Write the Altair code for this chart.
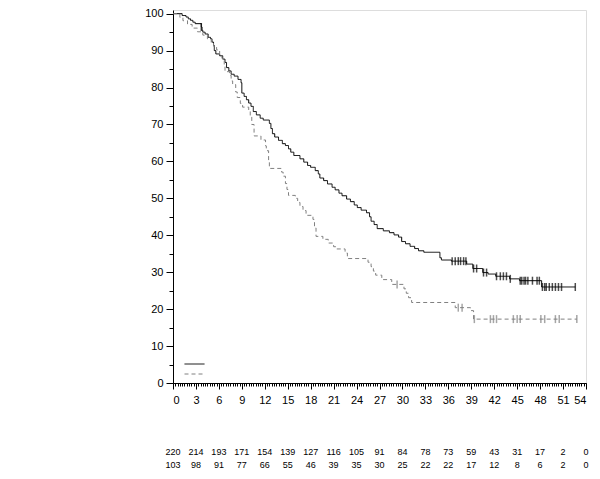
import altair as alt
import pandas as pd
import numpy as np

# ---- Kaplan-Meier steps ----
trt_time = [0, 1.2, 1.7, 2.0, 2.3, 2.6, 2.9, 3.7, 3.8, 3.9, 4.2, 4.6, 4.9, 5.1, 5.3, 5.4, 5.6, 6.1, 6.5, 6.8,
            7.0, 7.3, 7.6, 8.0, 8.5, 8.9, 9.0, 9.3, 9.6, 9.9, 10.2, 10.5, 10.9, 11.4, 11.8, 12.6, 12.8, 13.0,
            13.3, 13.8, 14.3, 14.7, 15.1, 15.4, 15.8, 16.6, 17.1, 17.6, 18.0, 18.6, 19.0, 19.2, 19.7, 20.2,
            20.8, 21.2, 21.7, 22.1, 22.7, 23.2, 23.7, 24.1, 24.6, 25.3, 25.7, 25.9, 26.3, 26.7, 27.5, 28.3,
            28.9, 29.5, 29.9, 30.4, 31.0, 31.6, 32.1, 32.8, 34.9, 35.1, 36.4, 38.4, 39.2, 40.5, 41.2, 42.2,
            44.0, 45.3, 48.2, 52.6]
trt_surv = [100, 99.5, 99.1, 98.6, 98.2, 97.7, 97.3, 96.4, 95.5, 95.0, 94.5, 93.6, 93.2, 92.3, 91.4, 90.0,
            89.1, 88.6, 87.7, 86.8, 85.4, 84.5, 83.6, 83.1, 82.2, 81.3, 78.5, 77.6, 76.7, 75.8, 74.9, 73.5,
            72.6, 71.7, 71.2, 70.3, 68.9, 67.5, 66.6, 65.7, 64.8, 64.3, 63.4, 62.5, 61.6, 60.7, 59.8, 58.9,
            58.4, 57.5, 56.6, 55.5, 54.8, 53.9, 53.0, 52.3, 51.4, 50.7, 49.8, 49.1, 48.2, 47.5, 46.8, 46.1,
            45.0, 43.8, 42.9, 41.8, 41.2, 40.7, 40.1, 39.5, 38.3, 37.7, 37.0, 36.4, 35.8, 35.4, 33.9, 33.3,
            33.0, 32.2, 31.0, 29.9, 29.5, 28.9, 28.2, 27.7, 26.0, 26.0]
trt_censor = [3.7, 36.5, 36.9, 37.3, 37.6, 38.0, 38.3, 39.3, 39.7, 40.6, 41.0, 42.3, 42.8, 43.2, 43.6, 44.1,
              45.4, 45.6, 45.9, 46.1, 46.4, 47.0, 47.6, 47.9, 48.3, 48.6, 48.8, 49.2, 49.6, 50.0, 50.4, 50.8,
              52.6]

ctl_time = [0, 0.9, 1.3, 1.9, 2.5, 3.2, 3.9, 4.5, 5.0, 5.3, 5.7, 6.1, 6.4, 6.7, 6.8, 7.4, 7.6, 7.8, 8.2, 8.4,
            8.8, 9.1, 9.9, 10.1, 10.3, 10.6, 11.5, 12.1, 12.2, 12.5, 12.6, 14.2, 14.4, 14.7, 14.9, 15.1, 16.0,
            16.3, 16.6, 17.0, 17.4, 18.3, 18.5, 18.7, 19.6, 20.3, 21.0, 21.3, 22.5, 22.8, 25.5, 25.9, 26.2,
            26.5, 27.3, 28.6, 30.2, 30.5, 30.8, 31.2, 36.9, 38.9, 39.3, 52.8]
ctl_surv = [100, 99.0, 98.1, 97.1, 96.1, 95.1, 94.2, 93.2, 92.2, 91.2, 90.2, 88.9, 87.9, 86.1, 84.3, 83.3,
            81.8, 80.8, 78.8, 77.3, 75.7, 74.7, 73.6, 72.3, 70.0, 66.9, 65.8, 64.2, 62.9, 60.2, 58.1, 57.1,
            56.0, 54.0, 52.4, 50.8, 50.0, 48.9, 47.8, 46.7, 45.4, 44.3, 42.0, 39.7, 38.9, 37.9, 36.9, 36.3,
            35.2, 33.7, 32.7, 31.5, 30.3, 29.2, 28.0, 26.7, 25.5, 24.3, 23.1, 21.8, 20.4, 19.6, 17.3, 17.3]
ctl_censor = [29.3, 37.3, 37.8, 39.4, 41.5, 41.9, 42.3, 44.5, 45.0, 45.4, 48.1, 48.6, 50.0, 50.5, 52.8]

# ---- numbers at risk ----
risk_time = [0, 3, 6, 9, 12, 15, 18, 21, 24, 27, 30, 33, 36, 39, 42, 45, 48, 51, 54]
risk_trt = [220, 214, 193, 171, 154, 139, 127, 116, 105, 91, 84, 78, 73, 59, 43, 31, 17, 2, 0]
risk_ctl = [103, 98, 91, 77, 66, 55, 46, 39, 35, 30, 25, 22, 22, 17, 12, 8, 6, 2, 0]

x_major = list(range(0, 55, 3))
y_major = list(range(0, 101, 10))


def step_value(times, survs, t):
    v = survs[0]
    for tt, ss in zip(times, survs):
        if tt <= t:
            v = ss
    return v


lines = pd.concat([
    pd.DataFrame({"group": "trt", "time": trt_time, "surv": trt_surv}),
    pd.DataFrame({"group": "ctl", "time": ctl_time, "surv": ctl_surv}),
])
cens = pd.concat([
    pd.DataFrame({"group": "trt", "time": trt_censor,
                  "surv": [step_value(trt_time, trt_surv, t) for t in trt_censor]}),
    pd.DataFrame({"group": "ctl", "time": ctl_censor,
                  "surv": [step_value(ctl_time, ctl_surv, t) for t in ctl_censor]}),
])
risk = pd.DataFrame({"time": risk_time, "trt": [str(v) for v in risk_trt],
                     "ctl": [str(v) for v in risk_ctl]})

FONT = "Liberation Sans"
xscale = alt.Scale(domain=[0, 54], nice=False, zero=False)
yscale = alt.Scale(domain=[0, 101], nice=False)
gdom = ["trt", "ctl"]
cscale = alt.Scale(domain=gdom, range=["#000000", "#808080"])
dscale = alt.Scale(domain=gdom, range=[[1, 0], [4, 3]])

leg = alt.Legend(title=None, orient="none", legendX=11, legendY=349, symbolType="stroke",
                 symbolSize=400, symbolStrokeWidth=1, labelExpr="''", rowPadding=0,
                 clipHeight=10, padding=0, labelFontSize=1, labelOffset=0)

line_layer = alt.Chart(lines).mark_line(interpolate="step-after", strokeWidth=1).encode(
    x=alt.X("time:Q", scale=xscale,
            axis=alt.Axis(values=x_major, title=None, orient="bottom", tickSize=6,
                          labelFontSize=11, labelFont=FONT, labelPadding=5, grid=False,
                          labelColor="black", tickColor="black", domainColor="black")),
    y=alt.Y("surv:Q", scale=yscale,
            axis=alt.Axis(values=y_major, title=None, orient="left", tickSize=7,
                          labelFontSize=11, labelFont=FONT, labelPadding=3, grid=False,
                          labelColor="black", tickColor="black", domainColor="black")),
    color=alt.Color("group:N", scale=cscale, legend=leg),
    strokeDash=alt.StrokeDash("group:N", scale=dscale, legend=leg),
)

cens_layer = alt.Chart(cens).mark_tick(orient="vertical", size=8, thickness=1.5).encode(
    x=alt.X("time:Q", scale=xscale,
            axis=alt.Axis(values=[round(v, 2) for v in np.arange(0, 54.01, 0.3)], title=None,
                          orient="bottom", tickSize=3, labels=False, domain=False, grid=False,
                          tickColor="black")),
    y=alt.Y("surv:Q", scale=yscale,
            axis=alt.Axis(values=list(range(5, 100, 10)), title=None, orient="left", tickSize=4,
                          labels=False, domain=False, grid=False, tickColor="black")),
    color=alt.Color("group:N", scale=cscale, legend=None),
)

risk1 = alt.Chart(risk).mark_text(font=FONT, fontSize=9, align="center", baseline="middle",
                                  color="black").encode(
    x=alt.X("time:Q", scale=xscale, axis=None), y=alt.value(442), text="trt:N")
risk2 = alt.Chart(risk).mark_text(font=FONT, fontSize=9, align="center", baseline="middle",
                                  color="black").encode(
    x=alt.X("time:Q", scale=xscale, axis=None), y=alt.value(455), text="ctl:N")

chart = alt.layer(line_layer, cens_layer, risk1, risk2).resolve_axis(
    x="independent", y="independent"
).properties(
    width=413, height=373, autosize=alt.AutoSizeParams(type="none"),
    padding={"left": 165, "top": 2, "right": 6, "bottom": 88},
).configure_view(stroke="black", strokeWidth=1).configure(background="white")

chart.save("out.html", embed_options={"renderer": "svg", "actions": False})
